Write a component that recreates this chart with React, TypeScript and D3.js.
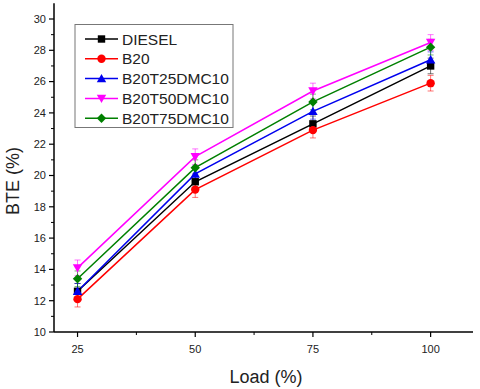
import React from "react";
import * as d3 from "d3";

const loads = [25, 50, 75, 100];
const seriesNames = ["DIESEL", "B20", "B20T25DMC10", "B20T50DMC10", "B20T75DMC10"];
const diesel = [12.6, 19.6, 23.3, 27.0];
const b20 = [12.1, 19.1, 22.9, 25.9];
const b20t25 = [12.6, 20.1, 24.1, 27.4];
const b20t50 = [14.1, 21.2, 25.4, 28.5];
const b20t75 = [13.4, 20.5, 24.7, 28.2];
const errors = [0.5, 0.5, 0.5, 0.5];
const colors = ["#000000", "#ff0000", "#0000ee", "#ff00ff", "#008000"];
const symbols = ["square", "circle", "tri", "invtri", "diamond"];
const yTicks = [10, 12, 14, 16, 18, 20, 22, 24, 26, 28, 30];
const xTicks = [25, 50, 75, 100];

const seriesValues = [diesel, b20, b20t25, b20t50, b20t75];

function Marker({ kind, x, y, color }: { kind: string; x: number; y: number; color: string }) {
  const s = 3.7;
  if (kind === "square") return <rect x={x - s} y={y - s} width={2 * s} height={2 * s} fill={color} />;
  if (kind === "circle") return <circle cx={x} cy={y} r={s + 0.5} fill={color} />;
  if (kind === "tri")
    return <path d={`M${x},${y - s - 1}L${x + s + 1},${y + s}L${x - s - 1},${y + s}Z`} fill={color} />;
  if (kind === "invtri")
    return <path d={`M${x},${y + s + 1}L${x + s + 1},${y - s}L${x - s - 1},${y - s}Z`} fill={color} />;
  return <path d={`M${x},${y - s - 1}L${x + s + 1},${y}L${x},${y + s + 1}L${x - s - 1},${y}Z`} fill={color} />;
}

export default function App() {
  const x = d3.scaleLinear().domain([20, 110]).range([54, 477.7]);
  const y = d3.scaleLinear().domain([10, 30]).range([332, 19]);
  const yTop = y(31);
  const line = d3
    .line<number>()
    .x((_, i) => x(loads[i]))
    .y((d) => y(d));
  const font = "'Liberation Sans', Arial, sans-serif";
  const minorY = d3.range(11, 31, 2);
  const minorX = [37.5, 62.5, 87.5];

  return (
    <svg
      width={480}
      height={389}
      style={{ position: "absolute", left: 0, top: 0, background: "#fff" }}
      fontFamily={font}
    >
      <rect width={480} height={389} fill="#fff" />
      {/* axes */}
      <line x1={x(20)} x2={x(20)} y1={yTop} y2={y(10)} stroke="#000" strokeWidth={1.5} />
      <line x1={x(20)} x2={473} y1={y(10)} y2={y(10)} stroke="#000" strokeWidth={1.5} />
      {yTicks.map((t) => (
        <g key={t}>
          <line x1={x(20) - 5} x2={x(20)} y1={y(t)} y2={y(t)} stroke="#000" strokeWidth={1.2} />
          <text x={x(20) - 8} y={y(t)} dy="0.35em" textAnchor="end" fontSize={11} fill="#222">
            {t}
          </text>
        </g>
      ))}
      {minorY.map((t) => (
        <line key={t} x1={x(20) - 3} x2={x(20)} y1={y(t)} y2={y(t)} stroke="#000" strokeWidth={1} />
      ))}
      {xTicks.map((t) => (
        <g key={t}>
          <line x1={x(t)} x2={x(t)} y1={y(10)} y2={y(10) + 5} stroke="#000" strokeWidth={1.2} />
          <text x={x(t)} y={y(10) + 21} textAnchor="middle" fontSize={11} fill="#222">
            {t}
          </text>
        </g>
      ))}
      {minorX.map((t) => (
        <line key={t} x1={x(t)} x2={x(t)} y1={y(10)} y2={y(10) + 3} stroke="#000" strokeWidth={1} />
      ))}
      <text x={266} y={383} textAnchor="middle" fontSize={18} fill="#222">
        Load (%)
      </text>
      <text
        transform={`translate(19,181) rotate(-90)`}
        textAnchor="middle"
        fontSize={18}
        fill="#222"
      >
        BTE (%)
      </text>

      {/* error bars */}
      {seriesValues.map((vals, si) => (
        <g key={"e" + si} stroke={colors[si]} strokeOpacity={0.55} strokeWidth={1}>
          {vals.map((v, i) => (
            <g key={i}>
              <line x1={x(loads[i])} x2={x(loads[i])} y1={y(v - errors[i])} y2={y(v + errors[i])} />
              <line x1={x(loads[i]) - 3} x2={x(loads[i]) + 3} y1={y(v - errors[i])} y2={y(v - errors[i])} />
              <line x1={x(loads[i]) - 3} x2={x(loads[i]) + 3} y1={y(v + errors[i])} y2={y(v + errors[i])} />
            </g>
          ))}
        </g>
      ))}
      {/* lines */}
      {seriesValues.map((vals, si) => (
        <path key={"l" + si} d={line(vals) || ""} fill="none" stroke={colors[si]} strokeWidth={1.5} />
      ))}
      {seriesValues.map((vals, si) => (
        <g key={"m" + si}>
          {vals.map((v, i) => (
            <Marker key={i} kind={symbols[si]} x={x(loads[i])} y={y(v)} color={colors[si]} />
          ))}
        </g>
      ))}

      {/* legend */}
      <rect x={75} y={24.5} width={158} height={103} fill="#fff" stroke="#777" strokeWidth={1} />
      {seriesNames.map((n, i) => {
        const ly = 39 + i * 19.8;
        return (
          <g key={n}>
            <line x1={85} x2={118} y1={ly} y2={ly} stroke={colors[i]} strokeWidth={1.5} />
            <Marker kind={symbols[i]} x={101.5} y={ly} color={colors[i]} />
            <text x={122} y={ly} dy="0.36em" fontSize={15.5} fill="#222">
              {n}
            </text>
          </g>
        );
      })}
    </svg>
  );
}
